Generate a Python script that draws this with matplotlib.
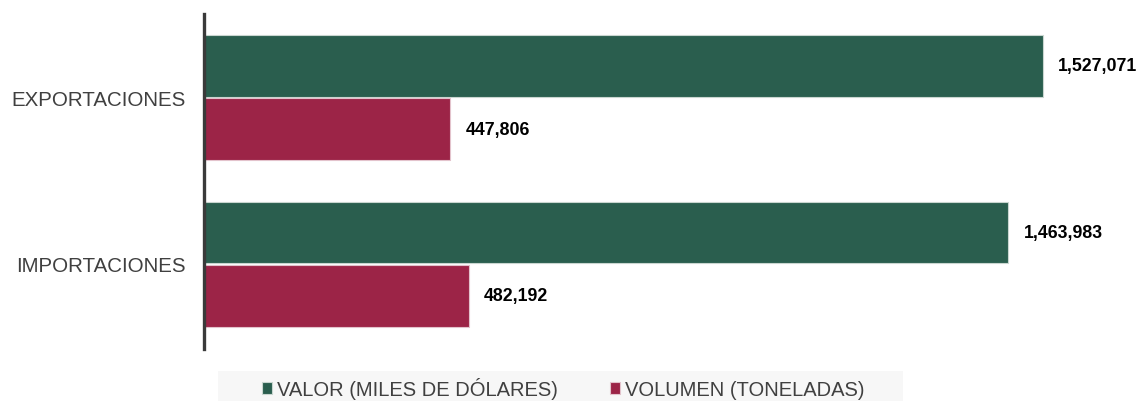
import matplotlib.pyplot as plt
from matplotlib.patches import Rectangle
import numpy as np

plt.rcParams['font.family'] = ['Liberation Sans', 'DejaVu Sans']

# Comercio: valor y volumen por flujo
categorias = ["EXPORTACIONES", "IMPORTACIONES"]
valor = [1527071, 1463983]        # miles de dólares
volumen = [447806, 482192]        # toneladas
series = ["VALOR (MILES DE DÓLARES)", "VOLUMEN (TONELADAS)"]
colores = ["#2a5e4e", "#9c2447"]

fig = plt.figure(figsize=(11.42, 4.02), dpi=100)
ax = fig.add_axes([204 / 1142, 1 - 350 / 402, 934 / 1142, 335 / 402])

y = np.arange(len(categorias))
alto = 0.37
off = 0.19
b1 = ax.barh(y - off, valor, height=alto, color=colores[0], edgecolor="#c9d6d0",
             linewidth=0.8, label=series[0])
b2 = ax.barh(y + off, volumen, height=alto, color=colores[1], edgecolor="#e3c3cc",
             linewidth=0.8, label=series[1])

for barras, vals in ((b1, valor), (b2, volumen)):
    for b, v in zip(barras, vals):
        ax.annotate(f"{v:,}", (b.get_width(), b.get_y() + b.get_height() / 2),
                    xytext=(11, 0), textcoords="offset points", va="center",
                    ha="left", fontsize=12.8, fontweight="bold", color="black")

ax.set_xlim(0, 1.7e6)
ax.set_ylim(1.51, -0.5)
ax.set_yticks(y)
ax.set_yticklabels(categorias, fontsize=14.8, color="#404040")
ax.tick_params(axis="y", length=0, pad=13)
ax.set_xticks([])
for s in ("top", "right", "bottom"):
    ax.spines[s].set_visible(False)
ax.spines["left"].set_color("#3a3a3a")
ax.spines["left"].set_linewidth(2.4)

# fondo de la leyenda
fig.patches.append(Rectangle((218 / 1142, 0), (903 - 218) / 1142, 30 / 402,
                             transform=fig.transFigure, facecolor="#f7f7f7",
                             edgecolor="none", zorder=0))
fig.legend(handles=[b1, b2], labels=series, loc="center",
           bbox_to_anchor=(563 / 1142, 1 - 389 / 402), ncol=2, frameon=False,
           fontsize=14.5, handlelength=0.5, handleheight=0.5, handletextpad=0.25,
           columnspacing=2.6, labelcolor="#404040")

fig.savefig("out.png", dpi=100)
